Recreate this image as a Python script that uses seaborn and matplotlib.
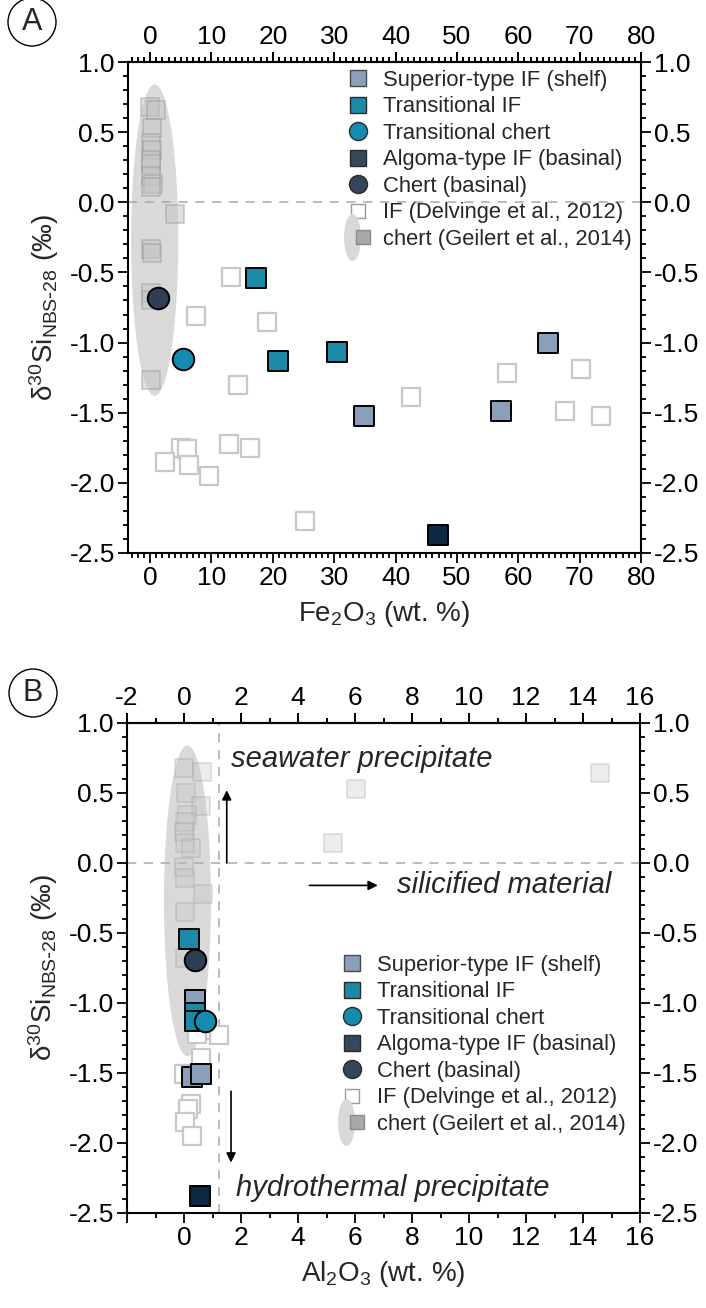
import matplotlib
matplotlib.use("Agg")
import numpy as np
import matplotlib.pyplot as plt
import seaborn as sns
from matplotlib.patches import Ellipse
from matplotlib.lines import Line2D
from matplotlib.legend_handler import HandlerTuple
from matplotlib.path import Path
from matplotlib.transforms import Affine2D
from matplotlib.ticker import MultipleLocator, FormatStrFormatter, FuncFormatter, FixedLocator

# ---- panel A: Fe2O3 (wt. %) vs d30Si ----
sup_fe = [34.8, 57.2, 64.9]
sup_si_a = [-1.52, -1.49, -1.00]
tif_fe = [17.2, 20.9, 30.4]
tif_si_a = [-0.54, -1.13, -1.07]
tch_fe = [5.4]
tch_si_a = [-1.12]
alg_fe = [46.9]
alg_si_a = [-2.37]
cb_fe = [1.3]
cb_si_a = [-0.68]
delv_fe = [13.2, 7.5, 19.1, 14.4, 42.5, 5.0, 6.0, 2.5, 6.4, 12.8, 16.2, 9.6, 25.2, 58.2, 70.3, 67.6, 73.4]
delv_si_a = [-0.53, -0.81, -0.85, -1.30, -1.39, -1.75, -1.76, -1.85, -1.87, -1.72, -1.75, -1.95, -2.27,
             -1.22, -1.19, -1.49, -1.52]
chert_fe = [0.0, 1.0, 0.3, 0.2, 0.3, 0.2, 0.1, 0.2, 0.5, 0.1, 4.1, 0.2, 0.3, 0.1, 0.2, 0.2]
chert_si_a = [0.68, 0.66, 0.53, 0.42, 0.37, 0.30, 0.27, 0.19, 0.13, 0.11, -0.08, -0.33, -0.36, -0.65, -0.70, -1.27]

# ---- panel B: Al2O3 (wt. %) vs d30Si ----
sup_al = [0.39, 0.28, 0.60]
sup_si_b = [-0.98, -1.53, -1.51]
tif_al = [0.18, 0.39, 0.39]
tif_si_b = [-0.54, -1.07, -1.13]
tch_al = [0.74]
tch_si_b = [-1.13]
alg_al = [0.56]
alg_si_b = [-2.38]
cb_al = [0.39]
cb_si_b = [-0.69]
delv_al = [1.23, 0.60, 0.00, 0.25, 0.14, 0.04, 0.28, 0.60, 0.45]
delv_si_b = [-1.23, -1.39, -1.51, -1.72, -1.76, -1.85, -1.95, -1.19, -1.22]
chert_al = [0.00, 0.63, 0.07, 0.60, 0.10, 0.04, 0.00, 0.25, 0.04, 0.00, 0.04, 0.67, 0.04, 0.04, 6.03, 5.24, 14.6]
chert_si_b = [0.68, 0.65, 0.50, 0.41, 0.34, 0.29, 0.22, 0.11, 0.14, -0.03, -0.11, -0.22, -0.35, -0.68,
              0.53, 0.14, 0.64]

LEGEND_LABELS = ["Superior-type IF (shelf)", "Transitional IF", "Transitional chert",
                 "Algoma-type IF (basinal)", "Chert (basinal)",
                 "IF (Delvinge et al., 2012)", "chert (Geilert et al., 2014)"]

SUP_C = "#8b9fba"
TIF_C = "#1b8aa7"
TCH_C = "#168bb0"
ALG_C = "#0f2945"
CB_C = "#2e3e53"
ELL_C = "#d9d9d9"

sns.set_theme(style="ticks")
plt.rcParams["font.family"] = ["Liberation Sans", "DejaVu Sans"]
plt.rcParams["mathtext.default"] = "regular"
plt.rcParams["axes.unicode_minus"] = False

fig = plt.figure(figsize=(7.06, 13.08), dpi=100)
ax_a = fig.add_axes([128 / 706, 1 - 553 / 1308, 513 / 706, 491 / 1308])
ax_b = fig.add_axes([127 / 706, 1 - 1213 / 1308, 513 / 706, 490 / 1308])


def draw_points(ax, sets, chert_alpha):
    (sx, sy), (tx, ty), (cx, cy), (ax_, ay), (bx, by), (dx, dy), (gx, gy) = sets
    sns.scatterplot(x=gx, y=gy, marker="s", s=150, color="#c4c4c4", edgecolor="#9a9a9a",
                    linewidth=1.2, alpha=chert_alpha, ax=ax, zorder=2, legend=False)
    sns.scatterplot(x=dx, y=dy, marker="s", s=150, color="white", edgecolor="#c8c8c8",
                    linewidth=1.6, ax=ax, zorder=3, legend=False)
    sns.scatterplot(x=sx, y=sy, marker="s", s=215, color=SUP_C, edgecolor="black",
                    linewidth=1.4, ax=ax, zorder=4, legend=False)
    sns.scatterplot(x=tx, y=ty, marker="s", s=215, color=TIF_C, edgecolor="black",
                    linewidth=1.4, ax=ax, zorder=4, legend=False)
    sns.scatterplot(x=ax_, y=ay, marker="s", s=215, color=ALG_C, edgecolor="black",
                    linewidth=1.4, ax=ax, zorder=4, legend=False)
    sns.scatterplot(x=bx, y=by, marker="o", s=240, color=CB_C, edgecolor="black",
                    linewidth=1.4, ax=ax, zorder=5, legend=False)
    sns.scatterplot(x=cx, y=cy, marker="o", s=240, color=TCH_C, edgecolor="black",
                    linewidth=1.4, ax=ax, zorder=5, legend=False)


def tick_style(axis_obj, **kw):
    axis_obj.tick_params(which="both", direction="out", width=1.3, colors="black",
                         labelsize=19, pad=2.5, **kw)
    axis_obj.tick_params(which="major", length=7)
    axis_obj.tick_params(which="minor", length=3.5)


def style_axes(ax, xmin, xmax, xmajor, bottom_fmt):
    ax.set_xlim(xmin, xmax)
    ax.set_ylim(-2.5, 1.0)
    ax.xaxis.set_major_locator(MultipleLocator(xmajor))
    ax.xaxis.set_minor_locator(MultipleLocator(1))
    ax.yaxis.set_major_locator(MultipleLocator(0.5))
    ax.yaxis.set_minor_locator(MultipleLocator(0.1))
    ax.yaxis.set_major_formatter(FormatStrFormatter("%.1f"))
    ax.xaxis.set_major_formatter(bottom_fmt)
    tick_style(ax, top=True, right=True, labeltop=False, labelright=True)
    for sp in ax.spines.values():
        sp.set_visible(True)
        sp.set_linewidth(1.5)
        sp.set_color("black")
    # top tick labels, only ticks inside the axis range
    first = np.ceil(xmin / xmajor) * xmajor
    sec = ax.secondary_xaxis("top")
    sec.xaxis.set_major_locator(FixedLocator(np.arange(first, xmax + 0.01, xmajor)))
    sec.xaxis.set_minor_locator(FixedLocator(np.arange(np.ceil(xmin), xmax + 0.01, 1)))
    sec.xaxis.set_major_formatter(FormatStrFormatter("%d"))
    tick_style(sec)
    sec.spines["top"].set_linewidth(1.5)
    ax.axhline(0, color="#a8a8a8", lw=1.1, ls=(0, (6, 5)), zorder=1)
    ax.set_ylabel(r"δ$^{30}$Si$_{NBS\text{-}28}$ (‰)", fontsize=20, labelpad=6)


def make_legend(ax, anchor):
    ell = Path.unit_circle().transformed(Affine2D().scale(0.36, 1.0))
    handles = [
        Line2D([], [], ls="", marker="s", ms=11.5, mfc=SUP_C, mec="#4a4a4a", mew=1.0),
        Line2D([], [], ls="", marker="s", ms=11.5, mfc=TIF_C, mec="#2a2a2a", mew=1.0),
        Line2D([], [], ls="", marker="o", ms=13, mfc=TCH_C, mec="#2a2a2a", mew=1.0),
        Line2D([], [], ls="", marker="s", ms=11.5, mfc="#36495b", mec="#2a2a2a", mew=1.0),
        Line2D([], [], ls="", marker="o", ms=13, mfc="#34475a", mec="#2a2a2a", mew=1.0),
        Line2D([], [], ls="", marker="s", ms=9.5, mfc="white", mec="#9a9a9a", mew=1.0),
        (Line2D([], [], ls="", marker=ell, ms=34, mfc=ELL_C, mec="none"),
         Line2D([], [], ls="", marker="s", ms=9.5, mfc="#a9a9a9", mec="#8a8a8a", mew=1.0)),
    ]
    leg = ax.legend(handles, LEGEND_LABELS, loc="upper left", bbox_to_anchor=anchor,
                    frameon=False, fontsize=15.8, handlelength=1.0, handletextpad=0.65,
                    labelspacing=0.25, borderpad=0, borderaxespad=0,
                    handler_map={tuple: HandlerTuple(ndivide=None)})
    leg.set_zorder(6)
    return leg


# panel A
ax_a.add_patch(Ellipse((0.75, -0.27), 7.7, 2.22, facecolor=ELL_C, edgecolor="none", zorder=1))
draw_points(ax_a, [(sup_fe, sup_si_a), (tif_fe, tif_si_a), (tch_fe, tch_si_a), (alg_fe, alg_si_a),
                   (cb_fe, cb_si_a), (delv_fe, delv_si_a), (chert_fe, chert_si_a)], 0.5)
style_axes(ax_a, -3.6, 80, 10, FormatStrFormatter("%d"))
ax_a.set_xlabel(r"Fe$_2$O$_3$ (wt. %)", fontsize=20, labelpad=6)
make_legend(ax_a, ((347 - 128) / 513, (553 - 70) / 491))

# panel B
ax_b.add_patch(Ellipse((0.12, -0.27), 1.65, 2.22, facecolor=ELL_C, edgecolor="none", zorder=1))
draw_points(ax_b, [(sup_al, sup_si_b), (tif_al, tif_si_b), (tch_al, tch_si_b), (alg_al, alg_si_b),
                   (cb_al, cb_si_b), (delv_al, delv_si_b), (chert_al, chert_si_b)], 0.3)
style_axes(ax_b, -2, 16, 2, FuncFormatter(lambda v, p: "" if v < -0.5 else f"{v:.0f}"))
ax_b.axvline(1.23, color="#a8a8a8", lw=1.1, ls=(0, (6, 5)), zorder=1)
ax_b.set_xlabel(r"Al$_2$O$_3$ (wt. %)", fontsize=20, labelpad=6)
make_legend(ax_b, ((341 - 127) / 513, (1213 - 955) / 490))

arrow = dict(arrowstyle="-|>", color="black", lw=1.2, mutation_scale=14, shrinkA=0, shrinkB=0)
ax_b.annotate("", xy=(1.5, 0.52), xytext=(1.5, 0.0), arrowprops=arrow)
ax_b.annotate("", xy=(1.65, -2.14), xytext=(1.65, -1.63), arrowprops=arrow)
ax_b.annotate("", xy=(6.8, -0.16), xytext=(4.4, -0.16), arrowprops=arrow)
ax_b.text(1.65, 0.74, "seawater precipitate", style="italic", fontsize=21, va="center", ha="left")
ax_b.text(7.47, -0.16, "silicified material", style="italic", fontsize=21, va="center", ha="left")
ax_b.text(1.82, -2.32, "hydrothermal precipitate", style="italic", fontsize=21, va="center", ha="left")

# panel letters
for cx, cy, letter in [(32, 22, "A"), (33, 693, "B")]:
    fig.add_artist(Ellipse((cx / 706, 1 - cy / 1308), 48 / 706, 48 / 1308, transform=fig.transFigure,
                           facecolor="white", edgecolor="black", lw=1.0))
    fig.text(cx / 706, 1 - cy / 1308, letter, fontsize=22, ha="center", va="center")

fig.savefig("out.png", dpi=100)
